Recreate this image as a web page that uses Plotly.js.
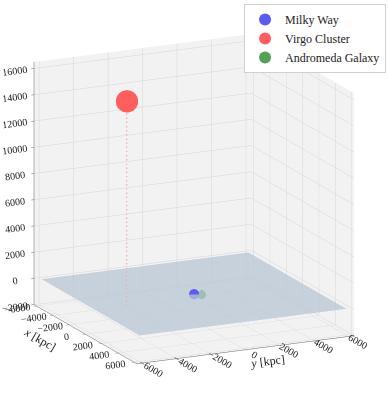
<!DOCTYPE html>
<html><head><meta charset="utf-8">
<script src="https://cdn.plot.ly/plotly-3.0.1.min.js"></script>
<style>html,body{margin:0;padding:0;background:#fff}#chart{width:388px;height:394px}</style>
</head><body><div id="chart"></div>
<script>
// Object names and galactocentric positions [kpc]
const names = ["Milky Way", "Virgo Cluster", "Andromeda Galaxy"];
const xs = [0, 1100, -375];
const ys = [0, -4420, 618];
const zs = [0, 15860, -286];
const sizes = [6, 13, 5];
const colors = ["#5a5cf0", "#ff5e5e", "#55a058"];
// galactic plane extent
const planeX = [-6000, 6000];
const planeY = [-6000, 6000];
const planeZ = [[0, 0], [0, 0]];
// ticks
const xyTicks = [-6000, -4000, -2000, 0, 2000, 4000, 6000];
const zTicks = [-2000, 0, 2000, 4000, 6000, 8000, 10000, 12000, 14000, 16000];

const traces = [];
traces.push({
  type: "surface", x: planeX, y: planeY, z: planeZ,
  colorscale: [[0, "#b9c6d4"], [1, "#b9c6d4"]], showscale: false, opacity: 0.75,
  lighting: {ambient: 1, diffuse: 0, specular: 0, roughness: 1, fresnel: 0},
  hoverinfo: "skip", showlegend: false
});
traces.push({
  type: "scatter3d", mode: "lines",
  x: [xs[1], xs[1]], y: [ys[1], ys[1]], z: [zs[1], 0],
  line: {color: "#f29a9a", width: 2, dash: "dash"},
  hoverinfo: "skip", showlegend: false
});
for (let i = 0; i < names.length; i++) {
  traces.push({
    type: "scatter3d", mode: "markers", name: names[i],
    x: [xs[i]], y: [ys[i]], z: [zs[i]],
    marker: {size: sizes[i], color: colors[i], line: {width: 0}}
  });
}

const font = {family: "Liberation Serif, DejaVu Serif, serif", size: 11, color: "#222"};
function ax(title, ticks, range) {
  return {
    title: {text: title, font: {family: font.family, size: 12, color: "#222"}},
    range: range, tickvals: ticks, ticktext: ticks.map(v => v < 0 ? "\u2212" + Math.abs(v) : String(v)),
    tickfont: font, showbackground: true, backgroundcolor: "#f2f2f2",
    gridcolor: "#d6d6d6", gridwidth: 1, showline: true, linecolor: "#666", linewidth: 1,
    zeroline: false, showspikes: false, ticks: "outside", ticklen: 3, tickcolor: "#666"
  };
}
const layout = {
  width: 388, height: 394, margin: {l: 0, r: 0, t: 0, b: 0},
  paper_bgcolor: "#fff", font: font,
  showlegend: true,
  legend: {x: 0.995, y: 0.99, xanchor: "right", yanchor: "top", bgcolor: "#fff",
    bordercolor: "#d0d0d0", borderwidth: 1, itemsizing: "constant",
    font: {family: font.family, size: 12, color: "#222"}},
  scene: {
    domain: {x: [0, 1], y: [0, 1]},
    xaxis: ax("<i>x</i> [kpc]", xyTicks, [-6300, 6300]),
    yaxis: ax("<i>y</i> [kpc]", xyTicks, [-6300, 6300]),
    zaxis: ax("<i>z</i> [kpc]", zTicks, [-2000, 16500]),
    aspectmode: "manual", aspectratio: {x: 1.22, y: 1.22, z: 1.28},
    camera: {eye: {x: 1.31, y: -0.62, z: 0.42}, center: {x: 0, y: 0, z: 0.01}, up: {x: 0, y: 0, z: 1},
      projection: {type: "orthographic"}}
  }
};
Plotly.newPlot("chart", traces, layout, {displayModeBar: false});
</script></body></html>
